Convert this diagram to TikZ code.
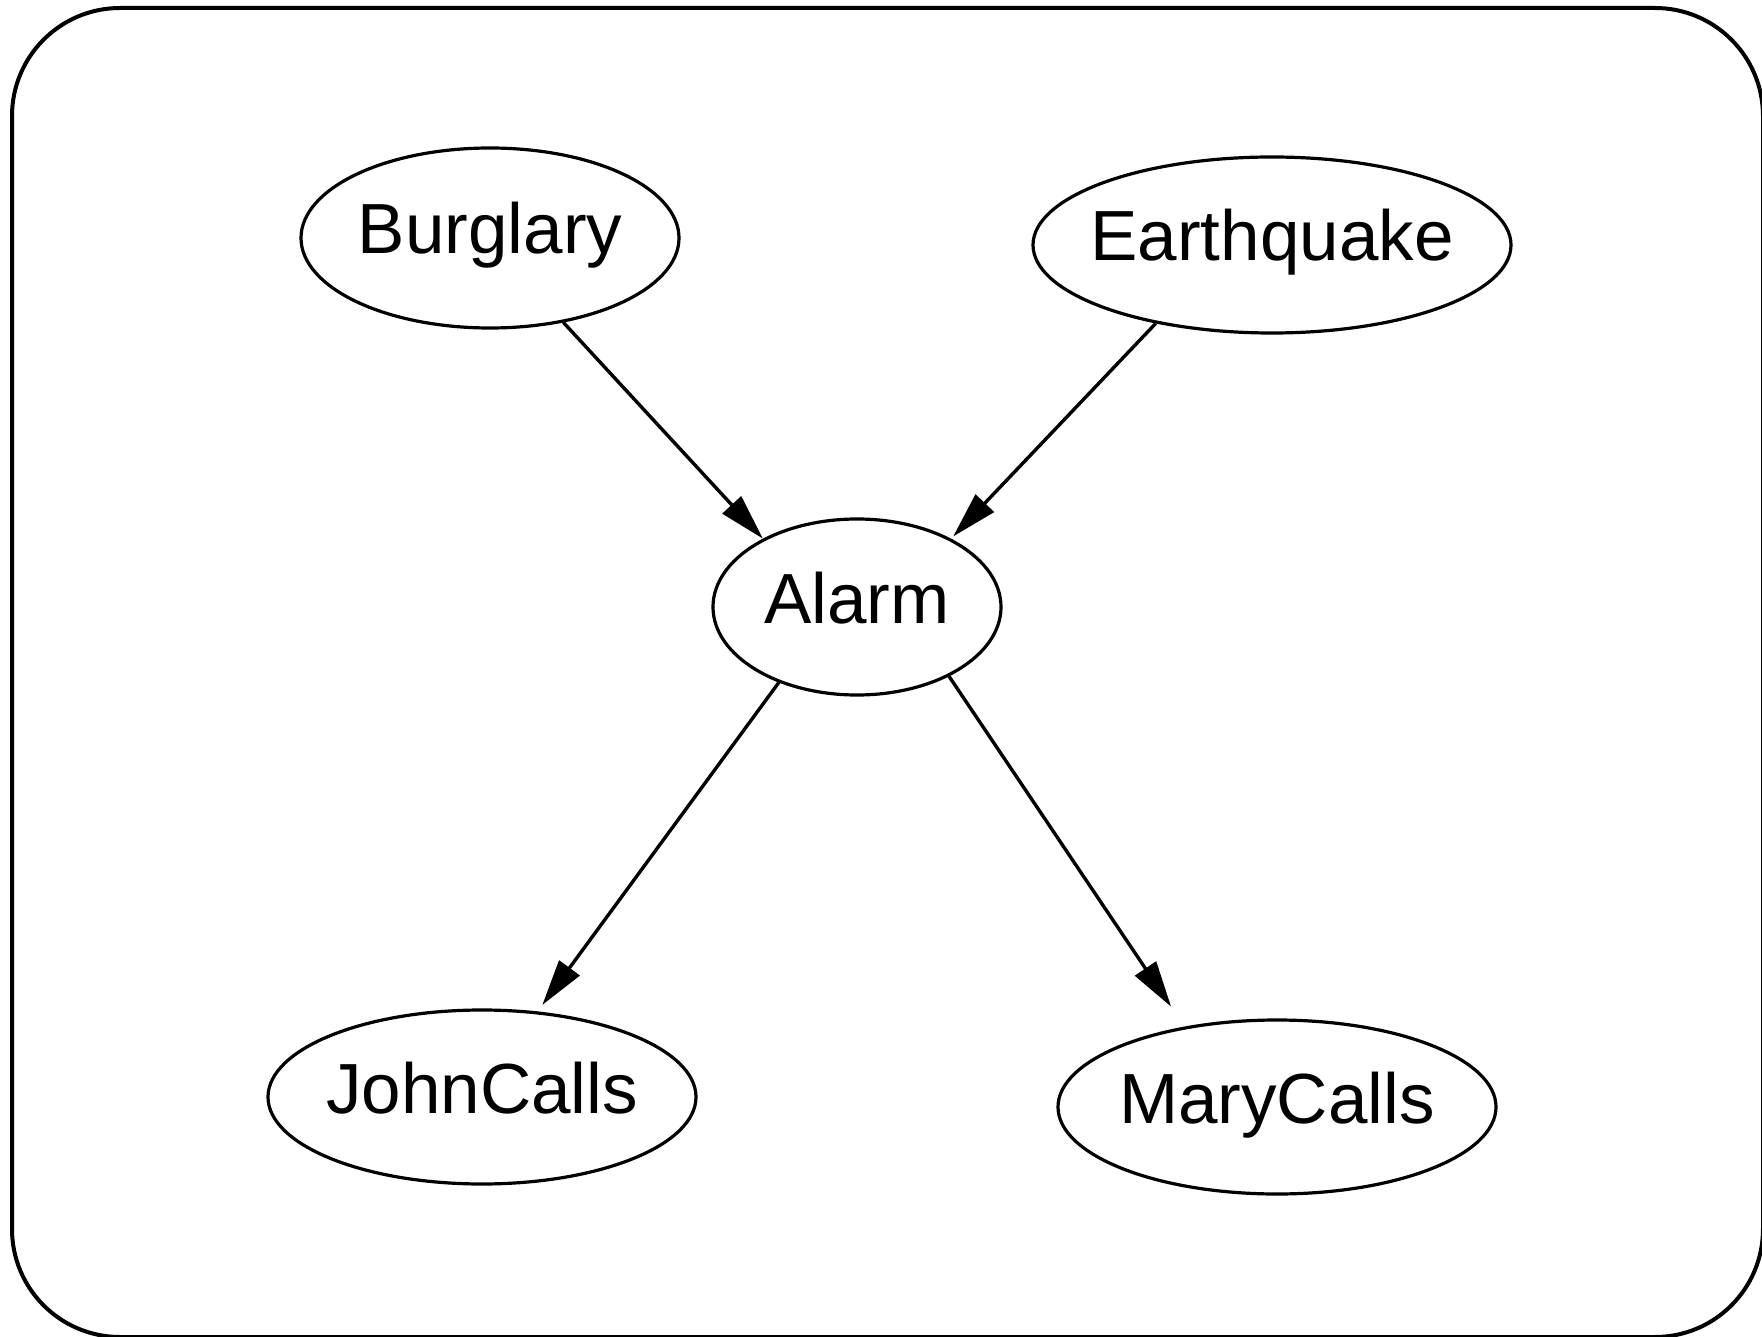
\documentclass[tikz,border=0pt]{standalone}
\usepackage{fontspec}
\setmainfont{Liberation Sans}
\usetikzlibrary{shapes.geometric,arrows.meta}
\newcommand{\nolab}[1]{\makebox[0pt]{#1}}
\tikzset{
  bn/.style={ellipse, draw, line width=3.2pt, inner sep=0pt,
    font=\fontsize{71}{85}\selectfont, text height=51pt, text depth=19pt},
  edge/.style={line width=3.4pt, -{Triangle[length=46pt,width=25pt]}}
}
\begin{document}
\begin{tikzpicture}[x=1pt,y=-1pt]
\useasboundingbox (0,0) rectangle (1762,1337);
\draw[line width=4pt, rounded corners=108pt] (12,8) rectangle (1763,1337);
\node[bn, minimum width=378pt, minimum height=180pt] (burglary) at (490,238) {\nolab{Burglary}};
\node[bn, minimum width=478pt, minimum height=176pt] (earthquake) at (1272,245) {\nolab{Earthquake}};
\node[bn, minimum width=288pt, minimum height=176pt] (alarm) at (857,607) {\nolab{Alarm}};
\node[bn, minimum width=428pt, minimum height=174pt] (john) at (482,1097) {\nolab{JohnCalls}};
\node[bn, minimum width=438pt, minimum height=174pt] (mary) at (1277,1107) {\nolab{MaryCalls}};
\draw[edge] (burglary.-49.4) -- (alarm.144.8);
\draw[edge, shorten >=3pt] (earthquake.-146.2) -- (alarm.36);
\draw[edge, shorten >=8pt] (alarm.-136.5) -- (john.57.4);
\draw[edge, shorten >=24pt] (alarm.-37.8) -- (mary.139);
\end{tikzpicture}
\end{document}
